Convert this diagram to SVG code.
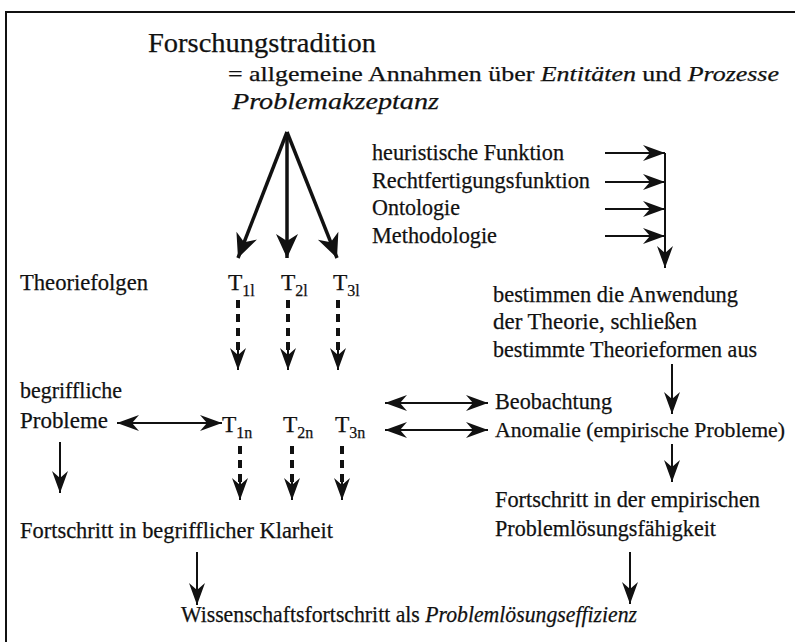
<svg xmlns="http://www.w3.org/2000/svg" width="795" height="642" viewBox="0 0 795 642">
<style>
text{font-family:"Liberation Serif","Times New Roman",serif;fill:#111;font-size:23.5px;stroke:#111;stroke-width:0.25}
.it{font-style:italic}
.sub{font-size:16px}
.ln{stroke:#111;fill:none;stroke-width:2}
.thick{stroke-width:3.5}
.dash{stroke-width:4;stroke-dasharray:8 6}
</style>
<defs>
<marker id="ah" markerUnits="userSpaceOnUse" viewBox="-24 -10 26 20" refX="0" refY="0" markerWidth="26" markerHeight="20" orient="auto-start-reverse">
<path d="M0,0 L-22,-8 L-15,0 L-22,8 Z" fill="#111"/>
</marker>
<marker id="ahb" markerUnits="userSpaceOnUse" viewBox="-26 -12 28 24" refX="0" refY="0" markerWidth="28" markerHeight="24" orient="auto">
<path d="M0,0 L-24,-11 L-17,0 L-24,11 Z" fill="#111"/>
</marker>
</defs>
<rect x="6" y="12" width="800" height="640" fill="none" stroke="#111" stroke-width="2"/>

<g id="header">
<text x="148" y="52" style="font-size:28px" textLength="228" lengthAdjust="spacingAndGlyphs">Forschungstradition</text>
<text x="228" y="81" style="font-size:22px" textLength="551" lengthAdjust="spacingAndGlyphs">= allgemeine Annahmen über <tspan class="it">Entitäten</tspan> und <tspan class="it">Prozesse</tspan></text>
<text x="232" y="109" class="it" textLength="207" lengthAdjust="spacingAndGlyphs">Problemakzeptanz</text>
</g>

<g id="functions">
<text x="372" y="160" textLength="192" lengthAdjust="spacingAndGlyphs">heuristische Funktion</text>
<text x="372" y="188" textLength="218" lengthAdjust="spacingAndGlyphs">Rechtfertigungsfunktion</text>
<text x="372" y="215" textLength="88" lengthAdjust="spacingAndGlyphs">Ontologie</text>
<text x="372" y="243" textLength="125" lengthAdjust="spacingAndGlyphs">Methodologie</text>
</g>

<g id="theoriefolgen"><text x="20" y="290" textLength="128" lengthAdjust="spacingAndGlyphs">Theoriefolgen</text></g>
<g id="T1l"><text x="228" y="290">T<tspan class="sub" dy="6">1l</tspan></text></g>
<g id="T2l"><text x="281" y="290">T<tspan class="sub" dy="6">2l</tspan></text></g>
<g id="T3l"><text x="333" y="290">T<tspan class="sub" dy="6">3l</tspan></text></g>

<g id="bestimmen">
<text x="493" y="302" textLength="245" lengthAdjust="spacingAndGlyphs">bestimmen die Anwendung</text>
<text x="493" y="329" textLength="204" lengthAdjust="spacingAndGlyphs">der Theorie, schließen</text>
<text x="493" y="357" textLength="264" lengthAdjust="spacingAndGlyphs">bestimmte Theorieformen aus</text>
</g>

<g id="begriffliche">
<text x="20" y="398" textLength="102" lengthAdjust="spacingAndGlyphs">begriffliche</text>
<text x="20" y="428" textLength="88" lengthAdjust="spacingAndGlyphs">Probleme</text>
</g>
<g id="T1n"><text x="222" y="432">T<tspan class="sub" dy="6">1n</tspan></text></g>
<g id="T2n"><text x="283" y="432">T<tspan class="sub" dy="6">2n</tspan></text></g>
<g id="T3n"><text x="335" y="432">T<tspan class="sub" dy="6">3n</tspan></text></g>

<g id="beobachtung">
<text x="495" y="409" textLength="117" lengthAdjust="spacingAndGlyphs">Beobachtung</text>
<text x="495" y="437" style="font-size:21.5px" textLength="290" lengthAdjust="spacingAndGlyphs">Anomalie (empirische Probleme)</text>
</g>

<g id="fortschritt-begrifflich"><text x="20" y="538" textLength="313" lengthAdjust="spacingAndGlyphs">Fortschritt in begrifflicher Klarheit</text></g>
<g id="fortschritt-empirisch">
<text x="495" y="507" textLength="265" lengthAdjust="spacingAndGlyphs">Fortschritt in der empirischen</text>
<text x="495" y="536" textLength="221" lengthAdjust="spacingAndGlyphs">Problemlösungsfähigkeit</text>
</g>
<g id="wissenschaftsfortschritt"><text x="181" y="622" textLength="456" lengthAdjust="spacingAndGlyphs">Wissenschaftsfortschritt als <tspan class="it">Problemlösungseffizienz</tspan></text></g>

<g id="connectors">
<line class="ln thick" x1="287" y1="132" x2="238" y2="258" marker-end="url(#ahb)"/>
<line class="ln thick" x1="287" y1="132" x2="287" y2="258" marker-end="url(#ahb)"/>
<line class="ln thick" x1="287" y1="132" x2="337" y2="258" marker-end="url(#ahb)"/>

<line class="ln" x1="605" y1="153" x2="665" y2="153" marker-end="url(#ah)"/>
<line class="ln" x1="605" y1="182" x2="665" y2="182" marker-end="url(#ah)"/>
<line class="ln" x1="605" y1="209" x2="665" y2="209" marker-end="url(#ah)"/>
<line class="ln" x1="605" y1="236" x2="665" y2="236" marker-end="url(#ah)"/>
<line class="ln" x1="665" y1="153" x2="665" y2="268" marker-end="url(#ah)"/>

<line class="ln dash" x1="238" y1="300" x2="238" y2="360"/>
<line class="ln dash" x1="288" y1="300" x2="288" y2="360"/>
<line class="ln dash" x1="338" y1="300" x2="338" y2="360"/>
<line class="ln" x1="238" y1="350" x2="238" y2="370" marker-end="url(#ah)"/>
<line class="ln" x1="288" y1="350" x2="288" y2="370" marker-end="url(#ah)"/>
<line class="ln" x1="338" y1="350" x2="338" y2="370" marker-end="url(#ah)"/>

<line class="ln" x1="672" y1="364" x2="672" y2="414" marker-end="url(#ah)"/>
<line class="ln" x1="117" y1="423" x2="222" y2="423" marker-start="url(#ah)" marker-end="url(#ah)"/>
<line class="ln" x1="385" y1="403" x2="488" y2="403" marker-start="url(#ah)" marker-end="url(#ah)"/>
<line class="ln" x1="385" y1="430" x2="488" y2="430" marker-start="url(#ah)" marker-end="url(#ah)"/>

<line class="ln" x1="60" y1="442" x2="60" y2="493" marker-end="url(#ah)"/>
<line class="ln dash" x1="240" y1="446" x2="240" y2="486"/>
<line class="ln dash" x1="292" y1="446" x2="292" y2="486"/>
<line class="ln dash" x1="342" y1="446" x2="342" y2="486"/>
<line class="ln" x1="240" y1="480" x2="240" y2="500" marker-end="url(#ah)"/>
<line class="ln" x1="292" y1="480" x2="292" y2="500" marker-end="url(#ah)"/>
<line class="ln" x1="342" y1="480" x2="342" y2="500" marker-end="url(#ah)"/>
<line class="ln" x1="672" y1="444" x2="672" y2="482" marker-end="url(#ah)"/>

<line class="ln" x1="197" y1="552" x2="197" y2="605" marker-end="url(#ah)"/>
<line class="ln" x1="630" y1="552" x2="630" y2="604" marker-end="url(#ah)"/>
</g>
</svg>
